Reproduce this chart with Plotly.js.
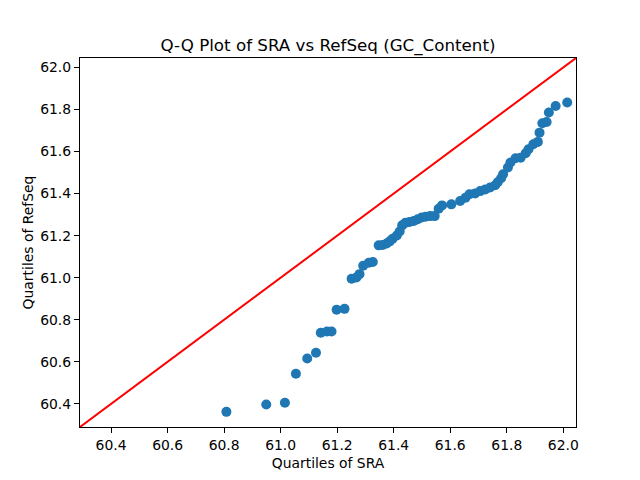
<!DOCTYPE html>
<html>
<head>
<meta charset="utf-8">
<script src="https://cdn.plot.ly/plotly-3.0.1.min.js"></script>
<style>html,body{margin:0;padding:0;background:#fff;}#chart{width:640px;height:480px;}</style>
</head>
<body>
<div id="chart"></div>
<script>
// Quantiles of SRA (x) and RefSeq (y) GC_Content
const sraQuantiles = [60.808, 60.949, 61.015, 61.054, 61.094, 61.125, 61.142, 61.164, 61.180, 61.198,
  61.226, 61.251, 61.268, 61.279, 61.292, 61.312, 61.326, 61.347, 61.361, 61.375,
  61.386, 61.396, 61.411, 61.421, 61.430, 61.442, 61.456, 61.471, 61.485, 61.499,
  61.513, 61.529, 61.545, 61.559, 61.571, 61.604, 61.635, 61.654, 61.668, 61.688,
  61.706, 61.724, 61.741, 61.759, 61.768, 61.780, 61.787, 61.804, 61.813, 61.831,
  61.849, 61.867, 61.877, 61.894, 61.910, 61.916, 61.926, 61.941, 61.949, 61.973, 62.014];
const refseqQuantiles = [60.362, 60.397, 60.405, 60.543, 60.616, 60.643, 60.738, 60.744, 60.744, 60.848,
  60.852, 60.995, 61.001, 61.017, 61.057, 61.071, 61.075, 61.154, 61.156, 61.163,
  61.173, 61.185, 61.201, 61.220, 61.249, 61.262, 61.265, 61.270, 61.278, 61.286,
  61.290, 61.293, 61.293, 61.328, 61.344, 61.349, 61.365, 61.380, 61.397, 61.401,
  61.412, 61.420, 61.429, 61.440, 61.454, 61.473, 61.492, 61.524, 61.548, 61.568,
  61.571, 61.592, 61.611, 61.635, 61.646, 61.690, 61.735, 61.741, 61.786, 61.817, 61.833];
// 45-degree reference line end points (same limits on both axes)
const lineEnds = [60.29, 62.045];
const tickVals = [60.4, 60.6, 60.8, 61.0, 61.2, 61.4, 61.6, 61.8, 62.0];
const tickText = ["60.4", "60.6", "60.8", "61.0", "61.2", "61.4", "61.6", "61.8", "62.0"];

const axisCommon = {
  range: lineEnds,
  tickvals: tickVals,
  ticktext: tickText,
  ticks: 'outside',
  ticklen: 5,
  tickwidth: 1.1,
  tickcolor: '#000',
  showline: true,
  linecolor: '#000',
  linewidth: 1.1,
  mirror: true,
  showgrid: false,
  zeroline: false,
  tickfont: {family: 'DejaVu Sans', size: 13.9, color: '#000'}
};

const traces = [
  {
    x: sraQuantiles, y: refseqQuantiles, mode: 'markers', type: 'scatter',
    marker: {color: '#1f77b4', size: 10},
    hoverinfo: 'none', showlegend: false
  },
  {
    x: lineEnds, y: lineEnds, mode: 'lines', type: 'scatter',
    line: {color: '#ff0000', width: 2},
    hoverinfo: 'none', showlegend: false
  }
];

const layout = {
  width: 640, height: 480,
  margin: {l: 80, r: 64, t: 58, b: 53, pad: 0},
  paper_bgcolor: '#fff', plot_bgcolor: '#fff',
  font: {family: 'DejaVu Sans', color: '#000'},
  title: {
    text: 'Q-Q Plot of SRA vs RefSeq (GC_Content)',
    font: {family: 'DejaVu Sans', size: 16.7, color: '#000'},
    x: 0.5, xref: 'paper', xanchor: 'center',
    y: 1, yref: 'paper', yanchor: 'bottom', pad: {b: 7}
  },
  xaxis: Object.assign({}, axisCommon, {
    title: {text: 'Quartiles of SRA', font: {family: 'DejaVu Sans', size: 13.9, color: '#000'}, standoff: 6}
  }),
  yaxis: Object.assign({}, axisCommon, {
    title: {text: 'Quartiles of RefSeq', font: {family: 'DejaVu Sans', size: 13.9, color: '#000'}, standoff: 3}
  })
};

Plotly.newPlot('chart', traces, layout, {staticPlot: true, displayModeBar: false});
</script>
</body>
</html>
